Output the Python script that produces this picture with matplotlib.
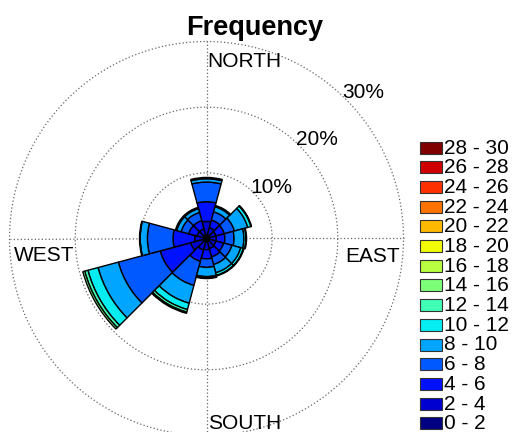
import matplotlib
matplotlib.use("Agg")
import matplotlib.pyplot as plt
from matplotlib.patches import Rectangle
import numpy as np

plt.rcParams["font.family"] = ["Liberation Sans", "DejaVu Sans"]

# direction sectors (compass degrees, clockwise from north), 30 deg wide
directions = [0, 30, 60, 90, 120, 150, 180, 210, 240, 270, 300, 330]

speed_bins = ["0 - 2", "2 - 4", "4 - 6", "6 - 8", "8 - 10", "10 - 12", "12 - 14",
              "14 - 16", "16 - 18", "18 - 20", "20 - 22", "22 - 24", "24 - 26",
              "26 - 28", "28 - 30"]

# frequency (%) of each speed bin per direction
freq_0_2 = [0.6, 0.6, 0.5, 0.5, 0.5, 0.5, 0.5, 0.5, 0.5, 0.4, 0.5, 0.5]
freq_2_4 = [2.0, 1.1, 1.0, 1.0, 1.0, 1.1, 1.2, 1.3, 2.0, 1.4, 1.0, 1.0]
freq_4_6 = [3.0, 1.2, 1.3, 1.3, 1.2, 1.3, 1.4, 1.8, 4.8, 3.3, 1.3, 1.3]
freq_6_8 = [3.0, 1.3, 1.6, 1.4, 1.3, 1.2, 1.3, 3.8, 6.6, 3.9, 1.2, 1.3]
freq_8_10 = [0.5, 0.8, 2.1, 1.5, 1.4, 1.3, 1.4, 2.8, 3.2, 1.1, 0.7, 0.6]
freq_10_12 = [0.2, 0.2, 0.5, 0.3, 0.4, 0.4, 0.2, 1.0, 1.6, 0.1, 0.2, 0.2]
freq_12_14 = [0.0, 0.0, 0.1, 0.1, 0.1, 0.1, 0.1, 0.4, 0.5, 0.0, 0.0, 0.0]
freq_14_16 = [0.0, 0.0, 0.0, 0.0, 0.0, 0.0, 0.0, 0.2, 0.3, 0.0, 0.0, 0.0]
freq_above_16 = [0.0] * 12  # no observations in the 16 - 30 bins

freqs = [freq_0_2, freq_2_4, freq_4_6, freq_6_8, freq_8_10, freq_10_12,
         freq_12_14, freq_14_16] + [freq_above_16] * 7

rings = [10, 20, 30]

colors = plt.cm.jet(np.linspace(0, 1, len(speed_bins)))

W, H = 516, 432
fig = plt.figure(figsize=(W / 100, H / 100), dpi=100)

# polar axes: centre at (206.5, 238.5) px, 30 % ring radius 197 px
cx, cy, R = 206.5, 238.5, 197
ax = fig.add_axes([(cx - R) / W, (H - cy - R) / H, 2 * R / W, 2 * R / H],
                  projection="polar")
ax.set_theta_zero_location("N")
ax.set_theta_direction(-1)
ax.set_ylim(0, 30)
ax.set_xticks([])
ax.set_yticks([])
ax.grid(False)
ax.spines["polar"].set_visible(False)

# dotted grid
dot = dict(color="0.4", linestyle=(0, (1, 1.8)), linewidth=0.9, zorder=1, clip_on=False)
t = np.linspace(0, 2 * np.pi, 400)
for r in rings:
    ax.plot(t, np.full_like(t, r), **dot)
for a in [0, 90, 180, 270]:
    ax.plot([np.deg2rad(a), np.deg2rad(a)], [0, 30], **dot)

# stacked wedges
theta = np.deg2rad(directions)
width = np.deg2rad(30)
bottom = np.zeros(len(directions))
for vals, col in zip(freqs, colors):
    vals = np.array(vals)
    m = vals > 0
    if m.any():
        ax.bar(theta[m], vals[m], width=width, bottom=bottom[m], color=col,
               edgecolor="black", linewidth=1.0, align="center", zorder=3)
    bottom += vals

# ring labels
for r in rings:
    ax.text(np.deg2rad(44), r - 0.3, f"{r}%", ha="left", va="baseline", fontsize=15, zorder=4)

# compass labels
ax.text(np.deg2rad(0.4), 26.1, "NORTH", ha="left", va="baseline", fontsize=15, zorder=4)
ax.text(np.deg2rad(179.6), 29.0, "SOUTH", ha="left", va="baseline", fontsize=15, zorder=4)
ax.text(np.deg2rad(263.2), 29.5, "WEST", ha="left", va="baseline", fontsize=15, zorder=4)
ax.text(np.deg2rad(96.9), 29.6, "EAST", ha="right", va="baseline", fontsize=15, zorder=4)

fig.text(255 / W, 1 - 35 / H, "Frequency", ha="center", va="baseline",
         fontsize=19.5, fontweight="bold")

# legend (top entry = highest bin)
lax = fig.add_axes([0, 0, 1, 1])
lax.set_xlim(0, W)
lax.set_ylim(H, 0)
lax.axis("off")
for i, (lab, col) in enumerate(zip(speed_bins[::-1], colors[::-1])):
    yc = 147.5 + i * 19.7
    lax.add_patch(Rectangle((420, yc - 6), 22, 12, facecolor=col,
                            edgecolor="0.2", linewidth=0.8))
    lax.text(444, yc + 0.5, lab, ha="left", va="center", fontsize=15)

fig.savefig("out.png", dpi=100)
